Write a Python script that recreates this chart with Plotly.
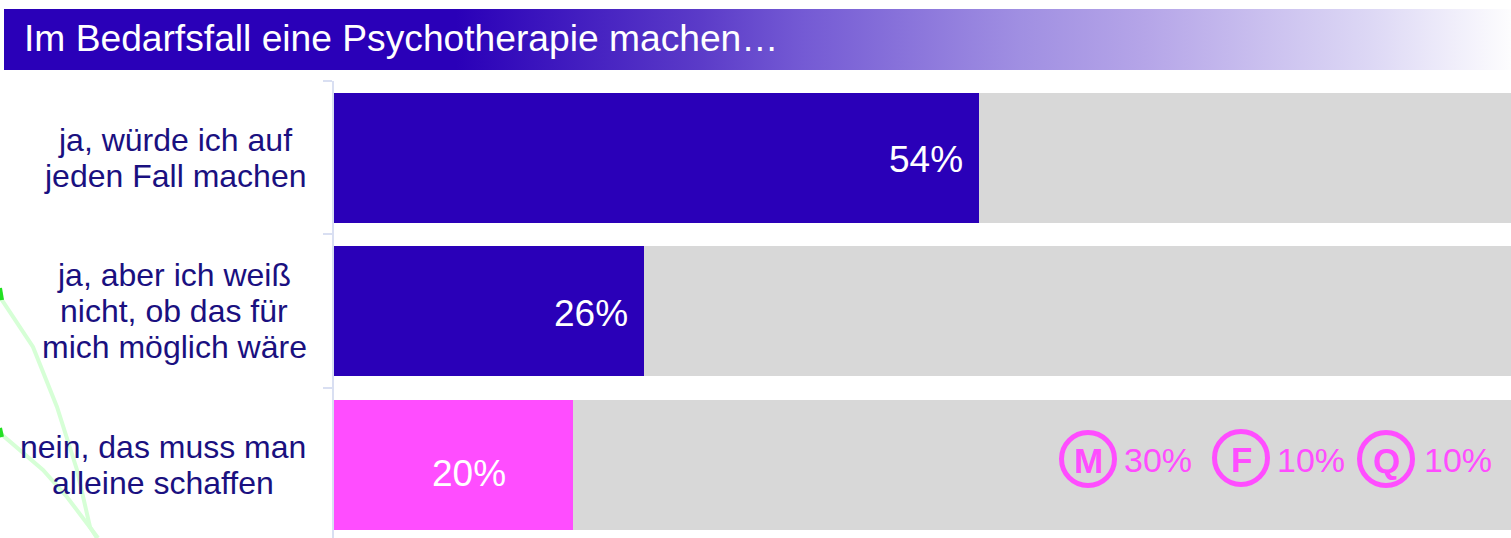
import plotly.graph_objects as go

categories = ["ja, würde ich auf<br>jeden Fall machen",
              "ja, aber ich weiß<br>nicht, ob das für<br>mich möglich wäre",
              "nein, das muss man<br>alleine schaffen"]
values = [54, 26, 20]
totals = [100, 100, 100]
bar_colors = ["#2a00b8", "#2a00b8", "#ff4dff"]
title_text = "Im Bedarfsfall eine Psychotherapie machen…"
sub_labels = ["M", "F", "Q"]
sub_values = [30, 10, 10]

FONT = "Liberation Sans"
PINK = "#ff4dff"
W, H = 1511, 538
LINE_STEP = 36
LABEL_CENTER = [175, 174, 163]

fig = go.Figure()

# bars
fig.add_trace(go.Bar(y=categories, x=totals, orientation="h", marker=dict(color="#d8d8d8", line_width=0),
                     width=0.848, showlegend=False, hoverinfo="skip"))
fig.add_trace(go.Bar(y=categories, x=values, orientation="h", marker=dict(color=bar_colors, line_width=0),
                     width=0.848, showlegend=False))

# pixel overlay axes for decoration
fig.add_trace(go.Scatter(x=[4, 1511, 1511, 4, 4], y=[9, 9, 70, 70, 9], xaxis="x2", yaxis="y2",
                         mode="lines", line=dict(width=0), fill="toself",
                         fillgradient=dict(type="horizontal", colorscale=[
                             [0, "#2a00b8"], [0.3, "#2a00b8"], [0.462, "#5b3bc8"], [0.53, "#745ad4"],
                             [0.674, "#a08fe2"], [0.757, "#b5a5e8"], [0.908, "#ddd8f5"], [1, "#fdfdfe"]]),
                         hoverinfo="skip", showlegend=False))
fig.add_trace(go.Scatter(x=[0, 33, 57, 77, 90, 97], y=[297, 347, 407, 470, 527, 538], xaxis="x2", yaxis="y2",
                         mode="lines", line=dict(color="#d6ffd6", width=4),
                         showlegend=False, hoverinfo="skip"))
fig.add_trace(go.Scatter(x=[0, 43, 67, 90, 98], y=[433, 470, 497, 527, 538], xaxis="x2", yaxis="y2",
                         mode="lines", line=dict(color="#d6ffd6", width=4),
                         showlegend=False, hoverinfo="skip"))
fig.add_trace(go.Scatter(x=[0, 2], y=[288, 300], xaxis="x2", yaxis="y2",
                         mode="lines", line=dict(color="#22e022", width=4), showlegend=False, hoverinfo="skip"))
fig.add_trace(go.Scatter(x=[0, 2], y=[428, 437], xaxis="x2", yaxis="y2",
                         mode="lines", line=dict(color="#22e022", width=4), showlegend=False, hoverinfo="skip"))

# M / F / Q badges
badge_x = [1088, 1241, 1386]
badge_y = [459, 458, 459]
fig.add_trace(go.Scatter(x=badge_x, y=badge_y, xaxis="x2", yaxis="y2", mode="markers",
                         marker=dict(symbol="circle-open", size=53, color=PINK, line=dict(color=PINK, width=5)),
                         showlegend=False, hoverinfo="skip"))

anns = [dict(xref="x2", yref="y2", x=22, y=38, text=title_text, showarrow=False, xanchor="left",
             yanchor="middle", font=dict(family=FONT, size=37.2, color="white"))]
for c, cx in zip(categories, LABEL_CENTER):
    lines = c.split("<br>")
    for i, ln in enumerate(lines):
        anns.append(dict(xref="x2", yref="y", x=cx, y=c, text=ln, showarrow=False, xanchor="center",
                         yshift=((len(lines) - 1) / 2 - i) * LINE_STEP, yanchor="middle",
                         font=dict(family=FONT, size=32, color="#1a1080")))
shifts = [(-14, -2), (-14, -2), (-65, -9)]
for c, v, (dx, dy) in zip(categories, values, shifts):
    anns.append(dict(xref="x", yref="y", x=v, y=c, text=f"{v}%", showarrow=False, xanchor="right",
                     xshift=dx, yshift=dy, font=dict(family=FONT, size=37, color="white")))
for bx, by, lab in zip(badge_x, badge_y, sub_labels):
    anns.append(dict(xref="x2", yref="y2", x=bx, y=by, text=f"<b>{lab}</b>", showarrow=False, xanchor="center",
                     yanchor="middle", yshift=-1, font=dict(family=FONT, size=35, color=PINK)))
for sx, sv in zip([1124, 1276.5, 1423.5], sub_values):
    anns.append(dict(xref="x2", yref="y2", x=sx, y=460, text=f"{sv}%", showarrow=False, xanchor="left",
                     yanchor="middle", xshift=-2, font=dict(family=FONT, size=34, color=PINK)))

fig.update_layout(
    width=W, height=H, margin=dict(l=0, r=0, t=0, b=0), barmode="overlay", bargap=0,
    plot_bgcolor="rgba(0,0,0,0)", paper_bgcolor="white", annotations=anns,
    xaxis=dict(domain=[334 / W, 1], range=[0, (W - 334) / 11.94], visible=False),
    yaxis=dict(domain=[0, 1 - 81 / H], anchor="x", type="category", categoryorder="array",
               categoryarray=categories, autorange=False, range=[2.478, -0.5], tickson="boundaries",
               ticks="outside", ticklen=9, tickcolor="#d9dff2", tickwidth=2, showticklabels=False,
               showline=True, linecolor="#d9dff2", linewidth=2, showgrid=False, zeroline=False),
    xaxis2=dict(domain=[0, 1], range=[0, W], visible=False, anchor="y2"),
    yaxis2=dict(domain=[0, 1], range=[H, 0], visible=False, anchor="x2"),
)
fig.write_html("out.html", post_script="document.body.style.margin='0';", config=dict(displayModeBar=False))
